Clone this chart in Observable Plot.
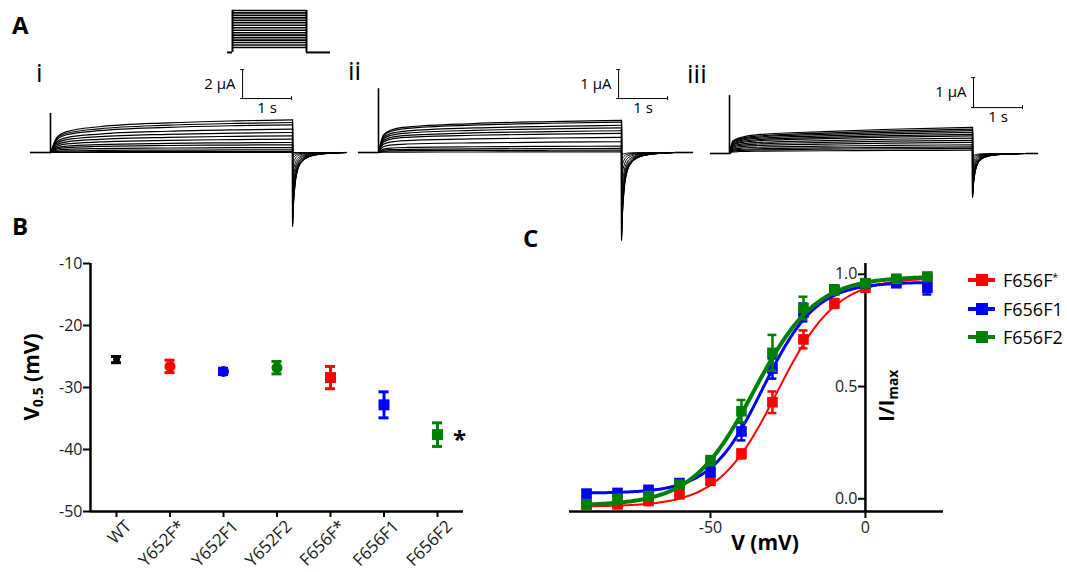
<!DOCTYPE html>
<html><head><meta charset="utf-8">
<script src="https://cdn.jsdelivr.net/npm/d3@7"></script>
<script src="https://cdn.jsdelivr.net/npm/@observablehq/plot@0.6"></script>
<style>
body{margin:0;background:#fff;}
#fig{position:relative;width:1067px;height:572px;overflow:hidden;background:#fff;font-family:"Open Sans",sans-serif;color:#000;}
.lbl{position:absolute;white-space:nowrap;line-height:1;}
.lbl sub{font-size:65%;vertical-align:-0.25em;}
.lbl sup{font-size:55%;vertical-align:0.6em;}
</style></head><body><div id="fig"></div>
<script>
// ================= DATA =================
// Panel A protocol (mV)
const holdingV = -100;
const stepV = [-80,-70,-60,-50,-40,-30,-20,-10,0,10,20,30,40,50,60,70];
const pulseDur = [4.94, 4.96, 4.96];          // s, panels i, ii, iii
const spikeI = [2.69, 2.2, 1.93];              // capacitive transient height (µA)

// Panel A i : current at end of pulse (µA) and tail peak (µA), one per trace
const iEnd_i  = [2.25,2.07,1.91,1.61,1.38,1.15,0.92,0.69,0.53,0.34,0.18,0.07,0];
const iTail_i = [-5.1,-4.95,-4.8,-4.55,-4.2,-3.7,-3.1,-2.4,-1.7,-1.0,-0.5,-0.2,0];
const actT_i  = [0,0.05,0.13,0.33,1.0,2.4,3.8,4.94];
const actF_i  = [0,0.2,0.46,0.64,0.79,0.91,0.97,1];
// Panel A ii
const iEnd_ii  = [1.11,1.05,0.94,0.85,0.75,0.66,0.52,0.37,0.22,0.14,0.08,0.02];
const iTail_ii = [-3.03,-2.95,-2.85,-2.7,-2.5,-2.25,-1.9,-1.5,-1.0,-0.6,-0.3,-0.1];
const actT_ii  = [0,0.03,0.1,0.24,0.58,1.94,3.5,4.96];
const actF_ii  = [0,0.2,0.54,0.69,0.79,0.9,0.96,1];
// Panel A iii
const iEnd_iii  = [0.87,0.81,0.76,0.7,0.64,0.59,0.51,0.44,0.37,0.29,0.22,0.17,0.11];
const iTail_iii = [-1.47,-1.43,-1.38,-1.32,-1.25,-1.15,-1.02,-0.88,-0.72,-0.55,-0.38,-0.22,-0.1];
const actT_iii  = [0,0.07,0.2,0.57,1.93,3.29,4.96];
const actF_iii  = [0,0.48,0.6,0.72,0.84,0.93,1];
// tail decay (time after pulse end, s ; fraction of peak)
const tailT = [0,0.02,0.05,0.1,0.2,0.3,0.5,0.8,1.1];
const tailF = [1,0.7,0.45,0.25,0.12,0.07,0.03,0.01,0];

// Panel B
const bCategories = ["WT","Y652F*","Y652F1","Y652F2","F656F*","F656F1","F656F2"];
const bV05  = [-25.5,-26.6,-27.4,-26.8,-28.4,-32.8,-37.6];
const bSEM  = [0.5,1.0,0.5,1.0,1.8,2.1,1.9];
const bColors  = ["#000000","#ff0000","#0000ff","#008000","#ff0000","#0000ff","#008000"];
const bSymbols = ["circle","circle","circle","circle","square","square","square"];
const bSignificant = [false,false,false,false,false,false,true];
const bTicks = [-50,-40,-30,-20,-10];

// Panel C
const cV = [-90,-80,-70,-60,-50,-40,-30,-20,-10,0,10,20];
const cSeries = ["F656F*","F656F1","F656F2"];
const cColors = ["#ff0000","#0000ff","#008000"];
const cRed   = [-0.025,-0.025,-0.01,0.02,0.08,0.20,0.43,0.71,0.87,0.94,0.97,0.98];
const cBlue  = [0.023,0.026,0.04,0.07,0.12,0.30,0.58,0.83,0.93,0.96,0.96,0.94];
const cGreen = [-0.025,0.0,0.012,0.063,0.17,0.39,0.65,0.85,0.93,0.96,0.98,0.99];
const cRedErr   = [0.01,0.01,0.01,0.01,0.015,0.02,0.048,0.04,0.02,0.01,0.01,0.01];
const cBlueErr  = [0.01,0.01,0.01,0.01,0.02,0.04,0.045,0.04,0.02,0.01,0.01,0.03];
const cGreenErr = [0.01,0.01,0.01,0.01,0.02,0.05,0.08,0.05,0.02,0.01,0.01,0.01];
const cXTicks = [-50, 0];
const cYTicks = [0, 0.5, 1];
// Boltzmann fit parameters per series
const fitV50 = [-28.5,-33,-36];
const fitK = [9.5,8.5,10];
const fitBottom = [-0.035,0.025,-0.03];
const fitTop = [0.985,0.965,0.99];

// ================= LAYOUT =================
const fig = document.getElementById("fig");
const FONT = "'Open Sans',sans-serif";
const hyphen = d => String(d);
const svgStyle = (l, t) => `position:absolute;left:${l}px;top:${t}px;overflow:visible;background:transparent;font-family:${FONT};color:#000;`;

function label(html, x, baseline, size, weight) {
  const d = document.createElement("div");
  d.className = "lbl"; d.innerHTML = html;
  d.style.left = x + "px"; d.style.top = (baseline - 0.888 * size) + "px";
  d.style.fontSize = size + "px"; d.style.fontWeight = weight || 400;
  fig.appendChild(d); return d;
}
function clabel(html, cx, cy, size, weight, rotate) {
  const d = document.createElement("div");
  d.className = "lbl"; d.innerHTML = html;
  d.style.left = cx + "px"; d.style.top = cy + "px";
  d.style.fontSize = size + "px"; d.style.fontWeight = weight || 400;
  d.style.transform = "translate(-50%,-50%)" + (rotate ? ` rotate(${rotate}deg)` : "");
  fig.appendChild(d); return d;
}

// ---------- Protocol ----------
(function () {
  const left = 220, top = 0, width = 120, height = 60, x0 = 232, pxS = 74 / pulseDur[0], yStep0 = 47, pxV = 0.247;
  const tEnd = pulseDur[0];
  const xd = [(left - x0) / pxS, (left + width - x0) / pxS];
  const yd = [stepV[0] - (top + height - yStep0) / pxV, stepV[0] + (yStep0 - top) / pxV];
  const vMax = d3.max(stepV);
  const svg = Plot.plot({
    width, height, margin: 0,
    x: {domain: xd, axis: null}, y: {domain: yd, axis: null},
    style: svgStyle(left, top),
    marks: [
      Plot.ruleY(stepV.map(v => ({v, x1: 0, x2: tEnd})), {y: "v", x1: "x1", x2: "x2", stroke: "#000", strokeWidth: 1.6}),
      Plot.ruleX([{t: 0}, {t: tEnd}], {x: "t", y1: holdingV, y2: vMax, stroke: "#000", strokeWidth: 2}),
      Plot.ruleY([{x1: -0.33, x2: 0}, {x1: tEnd, x2: 6.54}], {y: holdingV, x1: "x1", x2: "x2", stroke: "#000", strokeWidth: 2})
    ]
  });
  fig.appendChild(svg);
})();

// ---------- Current traces ----------
const panelsA = [
  {left: 20, width: 330, x0: 50, y0: 152, pxI: 14.5, tPre: -0.41, tPost: 6.02,
   plateau: iEnd_i, tail: iTail_i, actT: actT_i, actF: actF_i, barT: 3.92, barI: 3.72, barSize: 2, barLabel: "2 µA", lblDy: 10},
  {left: 350, width: 345, x0: 378, y0: 152, pxI: 29, tPre: -0.41, tPost: 6.43,
   plateau: iEnd_ii, tail: iTail_ii, actT: actT_ii, actF: actF_ii, barT: 4.9, barI: 1.86, barSize: 1, barLabel: "1 µA", lblDy: 10},
  {left: 700, width: 367, x0: 729, y0: 153, pxI: 30, tPre: -0.39, tPost: 6.31,
   plateau: iEnd_iii, tail: iTail_iii, actT: actT_iii, actF: actF_iii, barT: 4.98, barI: 1.53, barSize: 1, barLabel: "1 µA", lblDy: 10}
];
panelsA.forEach((c, pi) => {
  const top = 60, height = 185, pxS = 49, tEnd = pulseDur[pi];
  const xd = [(c.left - c.x0) / pxS, (c.left + c.width - c.x0) / pxS];
  const yd = [(c.y0 - top - height) / c.pxI, (c.y0 - top) / c.pxI];
  const act = c.plateau.flatMap((p, j) => c.actT.map((t, k) => ({j, t, I: p * c.actF[k]})));
  const tl = c.tail.flatMap((p, j) => tailT.map((t, k) => ({j, t: tEnd + t, I: p * tailF[k]})));
  const drops = c.plateau.map((p, j) => ({t: tEnd, y1: p, y2: c.tail[j]}));
  const base = [{x1: c.tPre, x2: 0, y: 0}, {x1: tEnd + tailT[tailT.length - 1], x2: c.tPost, y: 0}];
  const capS = 2 / pxS, capI = 2 / c.pxI;
  const svg = Plot.plot({
    width: c.width, height, margin: 0,
    x: {domain: xd, axis: null}, y: {domain: yd, axis: null},
    style: svgStyle(c.left, top),
    marks: [
      Plot.ruleY(base, {y: "y", x1: "x1", x2: "x2", stroke: "#000", strokeWidth: 1.6}),
      Plot.ruleX([{t: 0, y1: 0, y2: spikeI[pi]}], {x: "t", y1: "y1", y2: "y2", stroke: "#000", strokeWidth: 1.6}),
      Plot.line(act, {x: "t", y: "I", z: "j", curve: "monotone-x", stroke: "#000", strokeWidth: 1.2}),
      Plot.ruleX(drops, {x: "t", y1: "y1", y2: "y2", stroke: "#000", strokeWidth: 1.2}),
      Plot.line(tl, {x: "t", y: "I", z: "j", curve: "monotone-x", stroke: "#000", strokeWidth: 1}),
      // scale bars
      Plot.ruleX([{t: c.barT, y1: c.barI, y2: c.barI + c.barSize}], {x: "t", y1: "y1", y2: "y2", stroke: "#000", strokeWidth: 1}),
      Plot.ruleY([{I: c.barI, x1: c.barT - capS, x2: c.barT + 1}], {y: "I", x1: "x1", x2: "x2", stroke: "#000", strokeWidth: 1}),
      Plot.ruleY([{I: c.barI + c.barSize, x1: c.barT - capS, x2: c.barT + capS}], {y: "I", x1: "x1", x2: "x2", stroke: "#000", strokeWidth: 1}),
      Plot.ruleX([{t: c.barT + 1, y1: c.barI - capI, y2: c.barI + capI}], {x: "t", y1: "y1", y2: "y2", stroke: "#000", strokeWidth: 1}),
      Plot.text([{t: c.barT, I: c.barI + c.barSize / 2}], {x: "t", y: "I", text: () => c.barLabel, textAnchor: "end", dx: -7, fontSize: 15, fill: "#000"}),
      Plot.text([{t: c.barT + 0.5, I: c.barI}], {x: "t", y: "I", text: () => "1 s", dy: c.lblDy, fontSize: 15, fill: "#000"})
    ]
  });
  fig.appendChild(svg);
});

// ---------- Panel B ----------
(function () {
  const pad = 0.486, cap = 0.094;
  const bX = [-pad, bCategories.length - 1 + pad];
  const yMin = d3.min(bTicks), yMax = d3.max(bTicks);
  const rows = bCategories.map((c, i) => ({i, c, v: bV05[i], e: bSEM[i], color: bColors[i], sym: bSymbols[i], sig: bSignificant[i]}));
  const svg = Plot.plot({
    width: 500, height: 327, marginLeft: 90, marginRight: 37, marginTop: 18, marginBottom: 61,
    x: {domain: bX}, y: {domain: [yMin, yMax]},
    color: {type: "identity"},
    style: svgStyle(0, 245) + "font-size:16px;",
    marks: [
      Plot.ruleX([bX[0]], {stroke: "#000", strokeWidth: 2.5}),
      Plot.ruleY([yMin], {stroke: "#000", strokeWidth: 2.5}),
      Plot.axisY({ticks: bTicks, tickFormat: hyphen, tickSize: 7, tickPadding: 1, strokeWidth: 2, fontSize: 16, label: null, fill: "#1a1a1a"}),
      Plot.axisX({ticks: rows.map(d => d.i), tickFormat: () => "", tickSize: 6, strokeWidth: 2, label: null}),
      Plot.text(rows, {x: "i", y: () => yMin, text: "c", rotate: -45, textAnchor: "end", dx: 12, dy: 12, fontSize: 17, fill: "#1a1a1a"}),
      Plot.ruleX(rows, {x: "i", y1: d => d.v - d.e, y2: d => d.v + d.e, stroke: "color", strokeWidth: 3}),
      Plot.ruleY(rows, {y: d => d.v + d.e, x1: d => d.i - cap, x2: d => d.i + cap, stroke: "color", strokeWidth: 3}),
      Plot.ruleY(rows, {y: d => d.v - d.e, x1: d => d.i - cap, x2: d => d.i + cap, stroke: "color", strokeWidth: 3}),
      Plot.dot(rows.filter(d => d.sym === "circle" && d.i > 0), {x: "i", y: "v", fill: "color", r: 5.5, symbol: "circle"}),
      Plot.dot(rows.filter(d => d.i === 0), {x: "i", y: "v", fill: "color", r: 3.5, symbol: "circle"}),
      Plot.dot(rows.filter(d => d.sym === "square"), {x: "i", y: "v", fill: "color", r: 6.2, symbol: "square"}),
      Plot.text(rows.filter(d => d.sig), {x: "i", y: "v", text: () => "*", dx: 22, dy: 6, fontSize: 24, fontWeight: 700, fill: "#000"})
    ]
  });
  fig.appendChild(svg);
})();

// ---------- Panel C ----------
(function () {
  const xd = [-95.5, 25.2], yd = [-0.0566, 1.048];
  const tickLen = 7 / 3.1, capV = 1.45;
  const vals = [cRed, cBlue, cGreen], errs = [cRedErr, cBlueErr, cGreenErr];
  const widths = [2, 3, 4];
  const fitGrid = d3.range(-90, 20.001, 0.5);
  const marks = [
    Plot.ruleY([yd[0]], {stroke: "#000", strokeWidth: 2.5}),
    Plot.ruleX([0], {stroke: "#000", strokeWidth: 2.5}),
    Plot.axisX({ticks: cXTicks, tickFormat: hyphen, tickSize: 7, tickPadding: 3, strokeWidth: 2, fontSize: 16, label: null, fill: "#222"}),
    Plot.ruleY(cYTicks, {x1: -tickLen, x2: 0, stroke: "#000", strokeWidth: 2}),
    Plot.text(cYTicks, {x: 0, y: d => d, text: d => d3.format(".1f")(d), textAnchor: "end", dx: -8, fontSize: 16, fill: "#222"})
  ];
  cSeries.forEach((name, s) => {
    const rows = cV.map((v, i) => ({v, I: vals[s][i], e: errs[s][i]}));
    const p = {bottom: fitBottom[s], top: fitTop[s], v50: fitV50[s], k: fitK[s]};
    const fit = fitGrid.map(v => ({v, I: p.bottom + (p.top - p.bottom) / (1 + Math.exp((p.v50 - v) / p.k))}));
    const col = cColors[s];
    marks.push(
      Plot.ruleX(rows, {x: "v", y1: d => d.I - d.e, y2: d => d.I + d.e, stroke: col, strokeWidth: 2.5}),
      Plot.ruleY(rows, {y: d => d.I + d.e, x1: d => d.v - capV, x2: d => d.v + capV, stroke: col, strokeWidth: 2.5}),
      Plot.ruleY(rows, {y: d => d.I - d.e, x1: d => d.v - capV, x2: d => d.v + capV, stroke: col, strokeWidth: 2.5}),
      Plot.line(fit, {x: "v", y: "I", stroke: col, strokeWidth: widths[s]}),
      Plot.dot(rows, {x: "v", y: "I", fill: col, r: 6, symbol: "square"})
    );
  });
  const svg = Plot.plot({
    width: 440, height: 322, marginLeft: 49, marginRight: 17, marginTop: 13, marginBottom: 61,
    x: {domain: xd}, y: {domain: yd, axis: null},
    style: svgStyle(520, 250) + "font-size:16px;",
    marks
  });
  fig.appendChild(svg);

  // legend
  const ys = [280, 309, 337];
  cSeries.forEach((name, s) => {
    const line = document.createElement("div");
    line.style.cssText = `position:absolute;left:968px;top:${ys[s] - 2}px;width:27px;height:4px;background:${cColors[s]};`;
    const sq = document.createElement("div");
    sq.style.cssText = `position:absolute;left:${982 - 6}px;top:${ys[s] - 6}px;width:12px;height:12px;background:${cColors[s]};`;
    fig.appendChild(line); fig.appendChild(sq);
    clabel(name.replace("*", "<sup>*</sup>"), 0, ys[s], 18, 400).style.cssText +=
      `;left:1003px;transform:translate(0,-50%);`;
  });
})();

// ---------- Text labels ----------
label("A", 12, 34, 24, 700);
label("B", 12, 235, 24, 700);
label("C", 523, 247, 24, 700);
label("i", 36, 82, 26, 400);
label("ii", 348, 80, 26, 400);
label("iii", 687, 83, 26, 400);
clabel("V<sub>0.5</sub> (mV)", 33, 377, 21, 700, -90);
clabel("V (mV)", 765, 542, 21, 700);
clabel("I/I<sub>max</sub>", 888, 396, 21, 700, -90);
</script></body></html>
